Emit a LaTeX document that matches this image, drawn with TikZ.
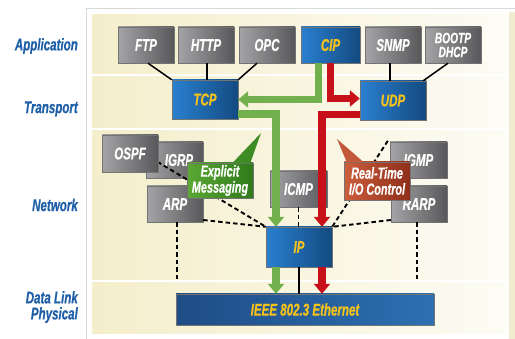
\documentclass[tikz,border=0pt]{standalone}
\usepackage{fontspec}
\setmainfont{Liberation Sans}
\newfontfamily\cond{Liberation Sans}[FakeStretch=0.68, FakeBold=0.5]
\usetikzlibrary{arrows.meta,shadows,calc}
\definecolor{grayL}{HTML}{A4A4A6}
\definecolor{grayR}{HTML}{58585A}
\definecolor{blueL}{HTML}{2A80D0}
\definecolor{blueR}{HTML}{134A80}
\definecolor{ethL}{HTML}{1F4C85}
\definecolor{ethR}{HTML}{2D70B2}
\definecolor{txtY}{HTML}{F7C21A}
\definecolor{lblBlue}{HTML}{1F5FA8}
\definecolor{grnL}{HTML}{5BA834}
\definecolor{grnR}{HTML}{2F7A1B}
\definecolor{grnT}{HTML}{3E8B24}
\definecolor{redL}{HTML}{CC5E3C}
\definecolor{redR}{HTML}{8E2E1A}
\definecolor{redT}{HTML}{C4583A}
\definecolor{garr}{HTML}{72B04E}
\definecolor{rarr}{HTML}{C8101A}
\definecolor{bandL}{HTML}{F4EECB}
\definecolor{bandR}{HTML}{FDFCF5}
\definecolor{edge}{HTML}{F1EBCF}
\begin{document}
\begin{tikzpicture}[x=1pt,y=-1pt,
  box/.style={rectangle, inner sep=0pt, align=center,
    font=\cond\bfseries\itshape\fontsize{17}{17}\selectfont,
    drop shadow={shadow xshift=1.2pt,shadow yshift=-1.2pt,opacity=0.45,fill=black},
    draw=black!55, line width=0.4pt},
  graybox/.style={box, left color=grayL, right color=grayR, text=white},
  bluebox/.style={box, left color=blueL, right color=blueR, text=txtY},
  twoline/.style={font=\cond\bfseries\itshape\fontsize{16}{16}\selectfont},
  lbl/.style={font=\cond\bfseries\itshape\fontsize{17}{16}\selectfont, text=lblBlue, anchor=east, inner sep=0pt, align=right},
  band/.style={left color=bandL, right color=bandR, draw=none},
  solid link/.style={draw=black, line width=1.5pt},
  dash link/.style={draw=black, line width=1.9pt, dash pattern=on 4.5pt off 3pt},
  garrow/.style={draw=garr, line width=7.5pt, -{Triangle[width=16pt,length=10pt]}},
  rarrow/.style={draw=rarr, line width=7.5pt, -{Triangle[width=16pt,length=10pt]}}
]
\useasboundingbox (0,0) rectangle (515,339);
% panel
\fill[white] (0,0) rectangle (515,339);
\draw[draw=black!15, fill=white, line width=0.8pt] (86,8) rectangle (517,341);
\fill[edge] (509,12) rectangle (515,339);
\fill[band] (92,15) rectangle (508,74);
\fill[band] (92,77) rectangle (508,128);
\fill[band] (92,131) rectangle (508,280);
\fill[band] (92,283) rectangle (508,334);

% layer labels
\node[lbl] (lapp) at (78,46) {Application};
\node[lbl] (ltra) at (78,109) {Transport};
\node[lbl] (lnet) at (78,205) {Network};
\node[lbl] (ldl) at (78,307) {Data Link\\Physical};

% nodes
\node[graybox, minimum width=56pt, minimum height=36pt] (ftp) at (146,45) {FTP};
\node[graybox, minimum width=56pt, minimum height=36pt] (http) at (206,45) {HTTP};
\node[graybox, minimum width=56pt, minimum height=36pt] (opc) at (267,45) {OPC};
\node[bluebox, minimum width=59pt, minimum height=36pt] (cip) at (330.5,45) {CIP};
\node[graybox, minimum width=56pt, minimum height=36pt] (snmp) at (393,45) {SNMP};
\node[graybox, minimum width=56pt, minimum height=36pt, font=\cond\bfseries\itshape\fontsize{15}{14}\selectfont] (boot) at (453,45) {BOOTP\\DHCP};

\node[bluebox, minimum width=66pt, minimum height=39pt] (tcp) at (205,99.5) {TCP};
\node[bluebox, minimum width=66pt, minimum height=39pt] (udp) at (393,100.5) {UDP};

% network gray boxes
\node[graybox, minimum width=57pt, minimum height=36pt] (igrp) at (174.5,160) {\hspace*{9pt}IGRP};
\node[graybox, minimum width=56pt, minimum height=36pt] (arp) at (175,204) {ARP};
\node[graybox, minimum width=57pt, minimum height=36pt] (icmp) at (298.5,189) {ICMP};
\node[graybox, minimum width=57pt, minimum height=36pt] (igmp) at (418.5,160) {IGMP};
\node[graybox, minimum width=56pt, minimum height=36pt] (rarp) at (419,204) {RARP};
\node[bluebox, minimum width=66pt, minimum height=40pt] (ip) at (299,247) {IP};
\node[box, left color=ethL, right color=ethR, text=txtY, minimum width=258pt, minimum height=31pt] (eth) at (305,309.5) {IEEE 802.3 Ethernet};

\coordinate (arpend) at (177,281);
\coordinate (rarpend) at (417,281);

% dashed links
\draw[dash link] ([xshift=-30pt,yshift=6pt]igrp.center) -- (ip.north west);
\node[graybox, minimum width=56pt, minimum height=37pt] (ospf) at (130,153.5) {OSPF};
\draw[dash link] ([yshift=-16pt]arp.east) -- (ip.north west);
\draw[dash link] ([xshift=2pt]arp.south) -- (arpend);
\draw[dash link] (icmp.south) -- (icmp.south |- ip.north);
\draw[dash link] ([xshift=-2pt,yshift=1pt]igmp.north west) -- (ip.north east);
\draw[dash link] ([yshift=-16pt]rarp.west) -- (ip.north east);
\draw[dash link] ([xshift=-2pt]rarp.south) -- (rarpend);

% callouts
\coordinate (emtip) at (261,133);
\coordinate (rttip) at (337,139);
\node[box, left color=grnL, right color=grnR, text=white, twoline, minimum width=66pt, minimum height=35pt] (em) at (220,180.5) {Explicit\\Messaging};
\fill[grnT] ([xshift=-21pt,yshift=-0.5pt]em.north east) -- (emtip) -- ([xshift=-3pt,yshift=-0.5pt]em.north east) -- cycle;
\node[box, left color=redL, right color=redR, text=white, twoline, minimum width=66pt, minimum height=38pt] (rt) at (377,181) {Real-Time\\I/O Control};
\fill[redT] ([xshift=3pt,yshift=-0.5pt]rt.north west) -- (rttip) -- ([xshift=20pt,yshift=-0.5pt]rt.north west) -- cycle;

% solid links
\draw[solid link] ([xshift=2pt]ftp.south) -- (tcp.north west);
\draw[solid link] ([xshift=1pt]http.south) -- ([xshift=1pt]http.south |- tcp.north);
\draw[solid link] ([xshift=-10pt]opc.south) -- (tcp.north east);
\draw[solid link] ([xshift=-3pt]snmp.south) -- ([xshift=-3pt]snmp.south |- udp.north);
\draw[solid link] ([xshift=-5pt]boot.south) -- ([xshift=-3pt]udp.north east);
\draw[solid link] (ip.south) -- (ip.south |- eth.north);

% arrows
\draw[garrow] ([xshift=-12pt]cip.south) |- (tcp.east);
\draw[rarrow] (cip.south) |- ([yshift=2pt]udp.west);
\draw[garrow] ([yshift=-14.5pt]tcp.east) -| ([xshift=-23pt]ip.north);
\draw[rarrow] ([yshift=-14pt]udp.west) -| ([xshift=23pt]ip.north);
\draw[garrow] ([xshift=-23pt]ip.south) -- ([xshift=-23pt]ip.south |- eth.north);
\draw[rarrow] ([xshift=23pt]ip.south) -- ([xshift=23pt]ip.south |- eth.north);
\end{tikzpicture}
\end{document}
